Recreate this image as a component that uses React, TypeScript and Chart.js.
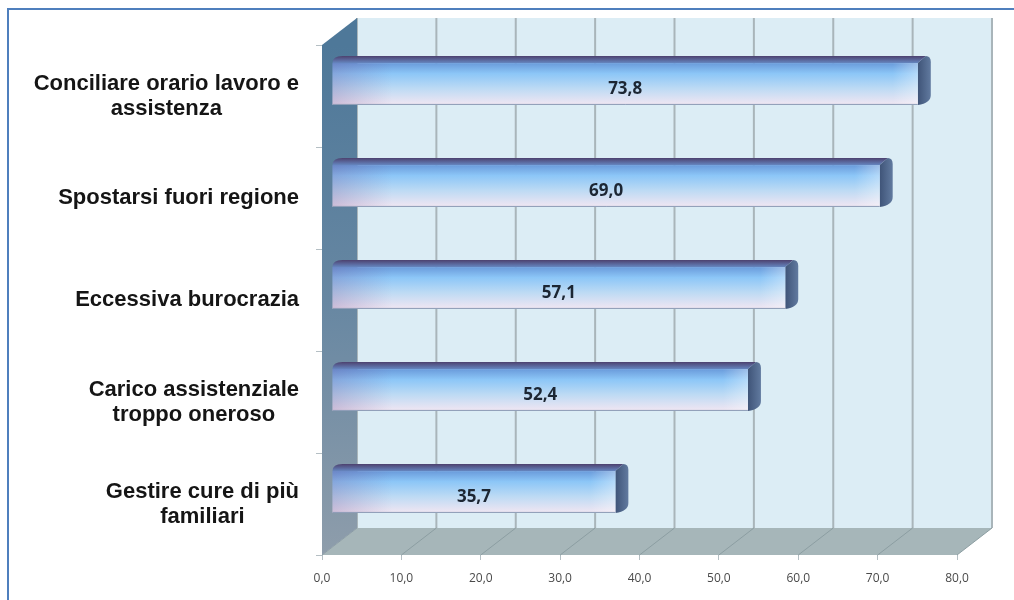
import React, { useEffect, useRef } from "react";
import { Chart, registerables } from "chart.js";

Chart.register(...registerables);

// ---- data ----
const categories: string[][] = [
  ["Conciliare orario lavoro e", "assistenza"],
  ["Spostarsi fuori regione"],
  ["Eccessiva burocrazia"],
  ["Carico assistenziale", "troppo oneroso"],
  ["Gestire cure di più", "familiari"],
];
const values: number[] = [73.8, 69.0, 57.1, 52.4, 35.7];
const xMin = 0;
const xMax = 80;
const xStep = 10;

const fmt = (v: number) => v.toFixed(1).replace(".", ",");

// ---- style constants ----
const DEPTH_X = 35;
const DEPTH_Y = 27;
const BAR_DX = 10;
const BAR_DY = 12;
const BAR_DEPTH_X = 13;
const BAR_DEPTH_Y = 7;

const threeD = {
  id: "threeD",
  beforeDraw(chart: any) {
    const { ctx, width, height } = chart;
    ctx.save();
    ctx.fillStyle = "#ffffff";
    ctx.fillRect(0, 0, width, height);
    ctx.strokeStyle = "#4f7fbd";
    ctx.lineWidth = 2;
    ctx.beginPath();
    ctx.moveTo(8, height);
    ctx.lineTo(8, 9);
    ctx.lineTo(width, 9);
    ctx.stroke();
    ctx.restore();
  },
  beforeDatasetsDraw(chart: any) {
    const { ctx, chartArea: a, scales } = chart;
    const xs = scales.x;
    ctx.save();
    // back wall
    ctx.fillStyle = "#dcedf5";
    ctx.fillRect(a.left + DEPTH_X, a.top - DEPTH_Y, a.right - a.left, a.bottom - a.top);
    // back wall gridlines
    ctx.strokeStyle = "#a9b5ba";
    ctx.lineWidth = 2;
    xs.ticks.forEach((t: any) => {
      const px = xs.getPixelForValue(t.value) + DEPTH_X;
      ctx.beginPath();
      ctx.moveTo(px, a.top - DEPTH_Y);
      ctx.lineTo(px, a.bottom - DEPTH_Y);
      ctx.stroke();
    });
    // floor
    ctx.fillStyle = "#a6b6b9";
    ctx.beginPath();
    ctx.moveTo(a.left, a.bottom);
    ctx.lineTo(a.left + DEPTH_X, a.bottom - DEPTH_Y);
    ctx.lineTo(a.right + DEPTH_X, a.bottom - DEPTH_Y);
    ctx.lineTo(a.right, a.bottom);
    ctx.closePath();
    ctx.fill();
    ctx.strokeStyle = "#8c9ea2";
    ctx.lineWidth = 1;
    xs.ticks.forEach((t: any) => {
      const px = xs.getPixelForValue(t.value);
      ctx.beginPath();
      ctx.moveTo(px, a.bottom);
      ctx.lineTo(px + DEPTH_X, a.bottom - DEPTH_Y);
      ctx.stroke();
    });
    // left wall
    const g = ctx.createLinearGradient(0, a.top, 0, a.bottom);
    g.addColorStop(0, "#4e7899");
    g.addColorStop(0.5, "#6787a2");
    g.addColorStop(1, "#8e9dab");
    ctx.fillStyle = g;
    ctx.beginPath();
    ctx.moveTo(a.left, a.top);
    ctx.lineTo(a.left + DEPTH_X, a.top - DEPTH_Y);
    ctx.lineTo(a.left + DEPTH_X, a.bottom - DEPTH_Y);
    ctx.lineTo(a.left, a.bottom);
    ctx.closePath();
    ctx.fill();
    ctx.restore();
  },
  afterDatasetsDraw(chart: any) {
    const { ctx, chartArea: a, scales } = chart;
    const meta = chart.getDatasetMeta(0);
    ctx.save();
    meta.data.forEach((el: any, i: number) => {
      const p = el.getProps(["x", "y", "base", "height"], true);
      const L = p.base + BAR_DX;
      const R = p.x + BAR_DX;
      const T = p.y - p.height / 2 - BAR_DY;
      const B = p.y + p.height / 2 - BAR_DY;
      // top face
      const tg = ctx.createLinearGradient(0, T - BAR_DEPTH_Y, 0, T);
      tg.addColorStop(0, "#4d4270");
      tg.addColorStop(1, "#6586c0");
      ctx.fillStyle = tg;
      ctx.beginPath();
      ctx.moveTo(L, T);
      ctx.quadraticCurveTo(L, T - BAR_DEPTH_Y, L + 10, T - BAR_DEPTH_Y);
      ctx.lineTo(R + BAR_DEPTH_X - 5, T - BAR_DEPTH_Y);
      ctx.lineTo(R, T);
      ctx.closePath();
      ctx.fill();
      // side face
      const sg = ctx.createLinearGradient(R, 0, R + BAR_DEPTH_X, 0);
      sg.addColorStop(0, "#3f5478");
      sg.addColorStop(1, "#617a9f");
      ctx.fillStyle = sg;
      ctx.beginPath();
      ctx.moveTo(R, T);
      ctx.lineTo(R + BAR_DEPTH_X - 5, T - BAR_DEPTH_Y);
      ctx.quadraticCurveTo(R + BAR_DEPTH_X, T - BAR_DEPTH_Y, R + BAR_DEPTH_X, T - BAR_DEPTH_Y + 6);
      ctx.lineTo(R + BAR_DEPTH_X, B - BAR_DEPTH_Y - 3);
      ctx.quadraticCurveTo(R + BAR_DEPTH_X, B - 2, R, B);
      ctx.closePath();
      ctx.fill();
      // front face
      const fg = ctx.createLinearGradient(0, T, 0, B);
      fg.addColorStop(0, "#6a9bdb");
      fg.addColorStop(0.25, "#8cc6f7");
      fg.addColorStop(0.6, "#bcdaf4");
      fg.addColorStop(1, "#f1e6f2");
      ctx.fillStyle = fg;
      ctx.fillRect(L, T, R - L, B - T);
      // purple tint on the left
      const hg = ctx.createLinearGradient(L, 0, L + 60, 0);
      hg.addColorStop(0, "rgba(110,70,140,0.25)");
      hg.addColorStop(1, "rgba(110,70,140,0)");
      ctx.fillStyle = hg;
      ctx.fillRect(L, T, 60, B - T);
      // highlight on right end
      const rg = ctx.createLinearGradient(R - 25, 0, R, 0);
      rg.addColorStop(0, "rgba(255,255,255,0)");
      rg.addColorStop(1, "rgba(255,255,255,0.35)");
      ctx.fillStyle = rg;
      ctx.fillRect(R - 25, T, 25, B - T);
      // bottom edge
      ctx.strokeStyle = "#8a9ab5";
      ctx.lineWidth = 1;
      ctx.beginPath();
      ctx.moveTo(L, B - 0.5);
      ctx.lineTo(R, B - 0.5);
      ctx.stroke();
      // value label
      ctx.fillStyle = "#1c2633";
      ctx.font = "bold 17px 'Open Sans'";
      ctx.textAlign = "center";
      ctx.textBaseline = "middle";
      ctx.fillText(fmt(values[i]), (L + R) / 2, (T + B) / 2 + 5);
    });
    // category labels
    const ys = scales.y;
    ctx.font = "bold 22px 'Liberation Sans'";
    ctx.fillStyle = "#151515";
    ctx.textAlign = "center";
    ctx.textBaseline = "middle";
    const rightEdge = a.left - 23;
    const lineH = 25;
    categories.forEach((lines, i) => {
      const cy = ys.getPixelForValue(i);
      const maxW = Math.max(...lines.map((l) => ctx.measureText(l).width));
      const cx = rightEdge - maxW / 2;
      lines.forEach((l, j) => {
        ctx.fillText(l, cx, cy + (j - (lines.length - 1) / 2) * lineH);
      });
    });
    ctx.restore();
  },
};

export default function App() {
  const ref = useRef<HTMLCanvasElement>(null);
  useEffect(() => {
    if (!ref.current) return;
    const chart = new Chart(ref.current, {
      type: "bar",
      data: {
        labels: categories.map((c) => c.join(" ")),
        datasets: [
          {
            data: values,
            backgroundColor: "rgba(0,0,0,0)",
            borderWidth: 0,
            barPercentage: 0.41,
            categoryPercentage: 1,
          },
        ],
      },
      options: {
        indexAxis: "y",
        responsive: false,
        animation: false,
        layout: { padding: { top: 45, right: 57, left: 0, bottom: 0 } },
        plugins: { legend: { display: false }, tooltip: { enabled: false } },
        scales: {
          x: {
            min: xMin,
            max: xMax,
            border: { display: false },
            grid: { drawOnChartArea: false, drawTicks: true, tickLength: 5, color: "#b5bfc4" },
            ticks: {
              stepSize: xStep,
              padding: 11,
              color: "#4a4a4a",
              font: { size: 12, family: "'Open Sans'" },
              callback: (v: any) => fmt(Number(v)),
            },
            afterFit: (s: any) => {
              s.height = 45;
            },
          },
          y: {
            border: { display: false },
            grid: { drawOnChartArea: false, drawTicks: true, tickLength: 6, color: "#b5bfc4", offset: true },
            ticks: { display: false },
            afterFit: (s: any) => {
              s.width = 322;
            },
          },
        },
      },
      plugins: [threeD],
    });
    return () => chart.destroy();
  }, []);
  return (
    <div style={{ position: "fixed", left: 0, top: 0, width: 1014, height: 600, background: "#fff" }}>
      <canvas ref={ref} width={1014} height={600} style={{ display: "block" }} />
    </div>
  );
}
